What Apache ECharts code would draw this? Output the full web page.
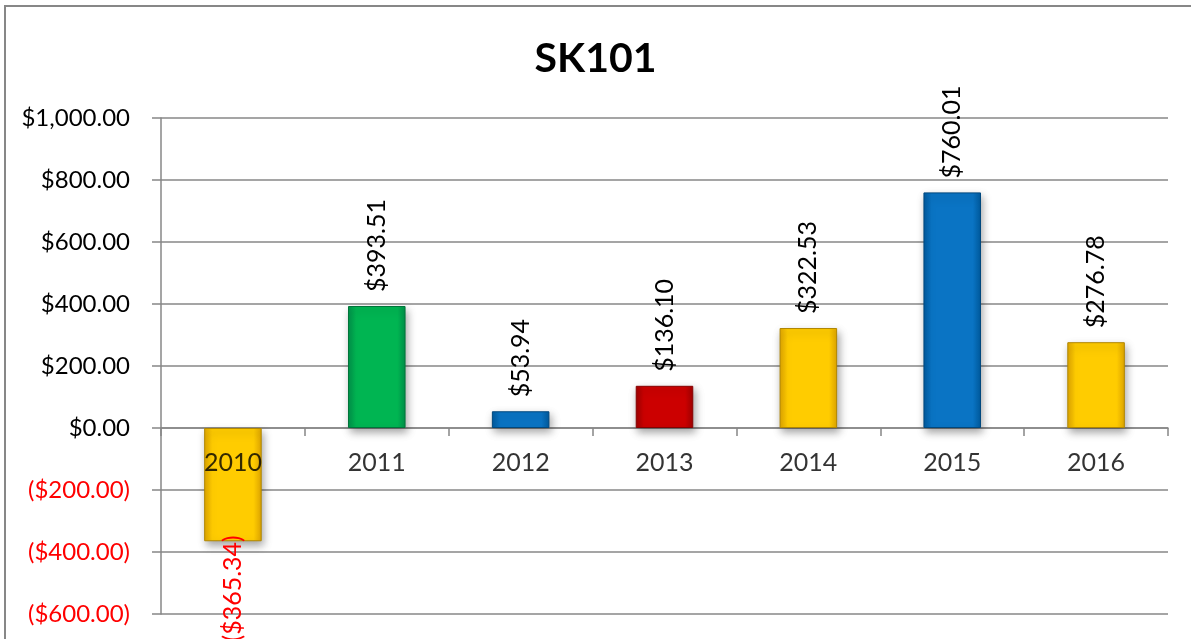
<!DOCTYPE html>
<html>
<head>
<meta charset="utf-8">
<title>SK101</title>
<script src="https://cdn.jsdelivr.net/npm/echarts@6/dist/echarts.min.js"></script>
<style>
  html, body { margin: 0; padding: 0; background: #fff; }
  #main { width: 1191px; height: 639px; }
</style>
</head>
<body>
<div id="main"></div>
<script>
// data
var years = ['2010', '2011', '2012', '2013', '2014', '2015', '2016'];
var values = [-365.34, 393.51, 53.94, 136.10, 322.53, 760.01, 276.78];
var barColors = ['yellow', 'green', 'blue', 'red', 'yellow', 'blue', 'yellow'];

var palette = {
  yellow: { edge: '#E0A600', mid: '#FFCC00', border: '#B08600' },
  green:  { edge: '#00914A', mid: '#00B552', border: '#00753A' },
  blue:   { edge: '#005A9E', mid: '#0A74C4', border: '#00487E' },
  red:    { edge: '#A00000', mid: '#CC0000', border: '#860000' }
};

function money(v) {
  var s = '$' + Math.abs(v).toLocaleString('en-US', { minimumFractionDigits: 2, maximumFractionDigits: 2 });
  return v < 0 ? '(' + s + ')' : s;
}

var font = 'Lato, "Open Sans", sans-serif';

var seriesData = values.map(function (v, i) {
  var c = palette[barColors[i]];
  return {
    value: v,
    itemStyle: {
      color: {
        type: 'linear', x: 0, y: 0, x2: 1, y2: 0,
        colorStops: [
          { offset: 0, color: c.edge },
          { offset: 0.14, color: c.mid },
          { offset: 0.86, color: c.mid },
          { offset: 1, color: c.edge }
        ]
      },
      borderColor: c.border,
      borderWidth: 1
    },
    label: v < 0 ? {
      position: 'bottom',
      align: 'right',
      distance: -6,
      color: '#FF0000'
    } : {
      position: 'top',
      align: 'left',
      distance: 14,
      color: '#000'
    }
  };
});

// category names sit on the zero line, over the bars
var yearLabels = years.map(function (y) { return [y, 0]; });

var chart = echarts.init(document.getElementById('main'));

var option = {
  animation: false,
  backgroundColor: '#fff',
  title: {
    text: 'SK101',
    left: 'center',
    top: 33,
    textStyle: { fontFamily: font, fontSize: 41, fontWeight: 'bold', color: '#000' }
  },
  graphic: [{
    type: 'polyline',
    shape: { points: [[5, 660], [5, 6], [1200, 6]] },
    style: { stroke: '#878787', lineWidth: 2, fill: null },
    silent: true
  }],
  grid: { left: 161, right: 23, top: 118, bottom: 25, outerBoundsMode: 'none', containLabel: false },
  xAxis: {
    type: 'category',
    data: years,
    axisLine: { onZero: true, lineStyle: { color: '#878787', width: 1.5 } },
    axisTick: { show: true, length: 8, lineStyle: { color: '#878787', width: 1.5 } },
    axisLabel: { show: false },
    splitLine: { show: false }
  },
  yAxis: {
    type: 'value',
    min: -600,
    max: 1000,
    interval: 200,
    axisLine: { show: true, lineStyle: { color: '#878787', width: 1.5 } },
    axisTick: { show: true, length: 9, lineStyle: { color: '#878787', width: 1.5 } },
    axisLabel: {
      margin: 31,
      formatter: function (v) {
        return v < 0 ? '{neg|' + money(v) + '}' : '{pos|' + money(v) + '}';
      },
      rich: {
        pos: { fontFamily: font, fontSize: 24, color: '#000' },
        neg: { fontFamily: font, fontSize: 24, color: '#FF0000' }
      }
    },
    splitLine: { show: true, lineStyle: { color: '#878787', width: 1.5 } }
  },
  series: [{
    type: 'bar',
    data: seriesData,
    barWidth: '40%',
    itemStyle: {
      shadowBlur: 8,
      shadowOffsetX: 2,
      shadowOffsetY: 4,
      shadowColor: 'rgba(0,0,0,0.35)'
    },
    label: {
      show: true,
      rotate: 90,
      verticalAlign: 'middle',
      fontFamily: font,
      fontSize: 25,
      formatter: function (p) { return money(p.value); }
    }
  }, {
    type: 'scatter',
    data: yearLabels,
    symbolSize: 0,
    z: 10,
    silent: true,
    label: {
      show: true,
      position: 'bottom',
      distance: 22,
      fontFamily: font,
      fontSize: 25,
      color: '#000',
      formatter: function (p) { return p.value[0]; }
    }
  }]
};

if (option && typeof option === 'object') {
  chart.setOption(option);
}

window.addEventListener('resize', chart.resize);
</script>
</body>
</html>
